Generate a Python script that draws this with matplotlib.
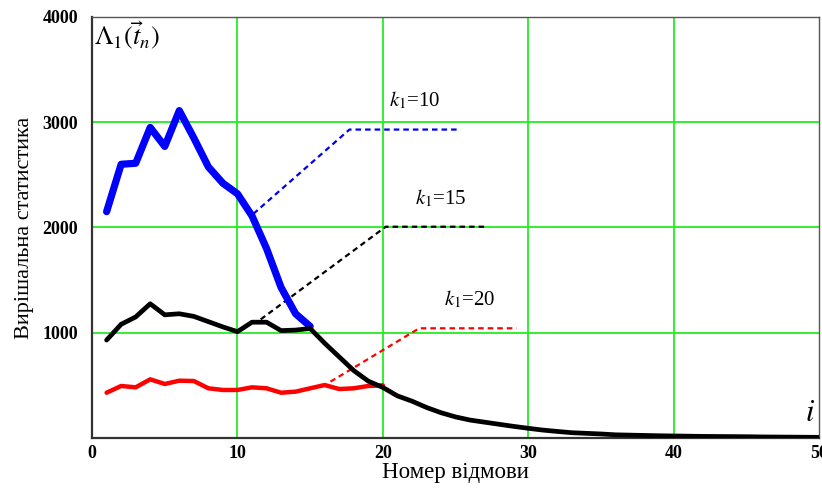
import numpy as np
import matplotlib
matplotlib.use("Agg")
from matplotlib import pyplot as plt

plt.rcParams['font.family'] = ['Liberation Serif', 'DejaVu Serif']
plt.rcParams['mathtext.fontset'] = 'stix'

# values
i_k10 = list(range(1, 16))
lam_k10 = [2150, 2600, 2610, 2950, 2770, 3110, 2850, 2575, 2420, 2320,
           2110, 1800, 1430, 1180, 1060]

i_k15 = list(range(1, 51))
lam_k15 = [930, 1080, 1150, 1275, 1170, 1180, 1155, 1105, 1055, 1010,
           1100, 1100, 1020, 1025, 1040, 900, 770, 640, 540, 480,
           400, 350, 290, 240, 200, 170, 150, 130, 110, 92,
           75, 62, 50, 44, 38, 30, 27, 24, 21, 19,
           17, 15, 14, 13, 12, 10, 9, 8, 7, 6]

i_k20 = list(range(1, 21))
lam_k20 = [430, 494, 481, 557, 513, 544, 541, 472, 456, 456,
           481, 472, 430, 440, 472, 503, 465, 472, 494, 500]

# leader lines for the labels: start, bend, end
lead_k10 = ([11.1, 17.7, 25.2], [2130, 2930, 2930])
lead_k15 = ([11.6, 20.2, 27.2], [1127, 2007, 2007])
lead_k20 = ([16.4, 22.5, 29.2], [535, 1042, 1042])
labels = ['$k_1$=10', '$k_1$=15', '$k_1$=20']
label_pos = [(20.4, 3100), (22.2, 2170), (24.2, 1215)]

fig = plt.figure(figsize=(8.22, 4.91), dpi=100)
ax = fig.add_axes([0.112, 0.108, 0.8844, 0.8575])

green = '#22ee22'
for gx in [10, 20, 30, 40]:
    ax.axvline(gx, color=green, lw=1.3, zorder=1)
for gy in [1000, 2000, 3000]:
    ax.axhline(gy, color=green, lw=1.3, zorder=1)

ax.plot(*lead_k10, color='#0000ee', lw=1.6, ls=(0, (2.5, 1.8)), zorder=2)
ax.plot(*lead_k15, color='black', lw=1.6, ls=(0, (2.5, 1.8)), zorder=2)
ax.plot(*lead_k20, color='#ff0000', lw=1.6, ls=(0, (2.5, 1.8)), zorder=2)

ax.plot(i_k20, lam_k20, color='#ff0000', lw=3.2, solid_joinstyle='round',
        solid_capstyle='round', zorder=3)
ax.plot(i_k10, lam_k10, color='#0000ff', lw=5.2, solid_joinstyle='round',
        solid_capstyle='round', zorder=4)
ax.plot(i_k15, lam_k15, color='black', lw=3.4, solid_joinstyle='round',
        solid_capstyle='round', zorder=5)

for txt, (tx, ty) in zip(labels, label_pos):
    ax.text(tx, ty, txt, fontsize=15, ha='left', va='bottom', zorder=6)

ax.text(0.15, 3970, r'$\Lambda_1(\vec{t}_n)$', fontsize=19, ha='left', va='top')
ax.text(49.7, 90, '$i$', fontsize=22, ha='right', va='bottom')

ax.set_xlim(0, 50)
ax.set_ylim(0, 4000)
ax.set_xticks([0, 10, 20, 30, 40, 50])
ax.set_yticks([1000, 2000, 3000, 4000])
ax.tick_params(length=0, labelsize=13)
ax.tick_params(axis='y', pad=10)
ax.tick_params(axis='x', pad=5)
for lab in ax.get_xticklabels() + ax.get_yticklabels():
    lab.set_fontweight('bold')

for side in ['left', 'bottom']:
    ax.spines[side].set_color('#333333')
    ax.spines[side].set_linewidth(1.6)
for side in ['top', 'right']:
    ax.spines[side].set_color('#555555')
    ax.spines[side].set_linewidth(1.0)

ax.set_xlabel('Номер відмови', fontsize=16.5, labelpad=0)
ax.set_ylabel('Вирішальна статистика', fontsize=16, labelpad=6)

fig.savefig('out.png', dpi=100)
